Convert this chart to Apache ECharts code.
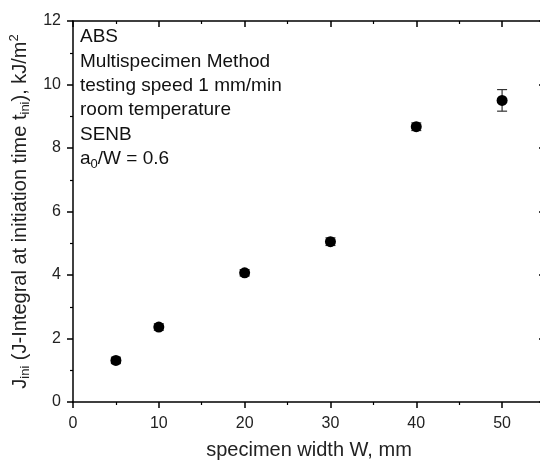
<!DOCTYPE html>
<html>
<head>
<meta charset="utf-8">
<script src="https://cdn.jsdelivr.net/npm/echarts@6/dist/echarts.min.js"></script>
<style>html,body{margin:0;padding:0;background:#fff;}#c{width:540px;height:460px;}</style>
</head>
<body>
<div id="c"></div>
<script>
var widths = [5, 10, 20, 30, 40, 50];
var jini = [1.31, 2.36, 4.07, 5.05, 8.67, 9.50];
var jerr = [0.10, 0.10, 0.10, 0.12, 0.12, 0.34];
var xTicks = [0, 10, 20, 30, 40, 50];
var yTicks = [0, 2, 4, 6, 8, 10, 12];
var notes = ['ABS', 'Multispecimen Method', 'testing speed 1 mm/min', 'room temperature', 'SENB'];

var font = '"Liberation Sans", Arial, sans-serif';
var chart = echarts.init(document.getElementById('c'));

var points = widths.map(function (w, i) { return [w, jini[i]]; });
var errData = widths.map(function (w, i) { return [w, jini[i] - jerr[i], jini[i] + jerr[i]]; });

function axLine() { return { show: true, onZero: false, lineStyle: { color: '#000', width: 1.5 } }; }
function axTick(inside) { return { show: true, inside: inside, length: 6, lineStyle: { color: '#000', width: 1.5 } }; }
function minTick() { return { show: true, splitNumber: 2, length: 3, lineStyle: { color: '#000', width: 1.2 } }; }

chart.setOption({
  animation: false,
  backgroundColor: '#fff',
  grid: { left: 73, top: 21, width: 472, height: 381, containLabel: false, outerBoundsMode: 'none' },
  xAxis: [{
    type: 'value', min: 0, max: 55, interval: 10,
    position: 'bottom',
    axisLine: axLine(), axisTick: axTick(false), minorTick: minTick(),
    splitLine: { show: false },
    axisLabel: { color: '#222', fontSize: 16, fontFamily: font, margin: 14,
      formatter: function (v) { return xTicks.indexOf(v) >= 0 ? String(v) : ''; } },
    name: 'specimen width W, mm', nameLocation: 'middle', nameGap: 38,
    nameTextStyle: { color: '#222', fontSize: 20, fontFamily: font }
  }, {
    type: 'value', min: 0, max: 55, interval: 10,
    position: 'top',
    axisLine: axLine(), axisTick: axTick(true), minorTick: minTick(),
    splitLine: { show: false },
    axisLabel: { show: false }
  }],
  yAxis: [{
    type: 'value', min: 0, max: 12, interval: 2,
    position: 'left',
    axisLine: axLine(), axisTick: axTick(false), minorTick: minTick(),
    splitLine: { show: false },
    axisLabel: { color: '#222', fontSize: 16, fontFamily: font, margin: 12,
      formatter: function (v) { return yTicks.indexOf(v) >= 0 ? String(v) : ''; } },
    name: '{n|J}{sub|ini}{n| (J-Integral at initiation time t}{sub|ini}{n|), kJ/m}{sup|2}',
    nameLocation: 'middle', nameGap: 31,
    nameTextStyle: {
      color: '#222', fontFamily: font,
      rich: {
        n: { fontSize: 20, fontFamily: font, color: '#222', lineHeight: 24 },
        sub: { fontSize: 13, fontFamily: font, color: '#222', verticalAlign: 'bottom', lineHeight: 24, padding: [9, 0, 0, 0] },
        sup: { fontSize: 13, fontFamily: font, color: '#222', verticalAlign: 'top', lineHeight: 24, padding: [0, 0, 9, 0] }
      }
    }
  }, {
    type: 'value', min: 0, max: 12, interval: 2,
    position: 'right',
    axisLine: axLine(), axisTick: axTick(true), minorTick: minTick(),
    splitLine: { show: false },
    axisLabel: { show: false }
  }],
  graphic: [{
    type: 'text', left: 80, top: 25,
    style: {
      text: notes.map(function (s) { return '{n|' + s + '}'; }).join('\n') + '\n{n|a}{sub|0}{n|/W = 0.6}',
      font: '19px ' + font, fill: '#111', lineHeight: 24.3,
      rich: {
        n: { fontSize: 19, fontFamily: font, fill: '#111', lineHeight: 24.3 },
        sub: { fontSize: 13, fontFamily: font, fill: '#111', lineHeight: 24.3, verticalAlign: 'bottom', padding: [9, 0, 0, 0] }
      }
    }
  }],
  series: [{
    type: 'custom',
    xAxisIndex: 0, yAxisIndex: 0,
    data: errData,
    z: 2,
    renderItem: function (params, api) {
      var x = api.value(0);
      var lo = api.coord([x, api.value(1)]);
      var hi = api.coord([x, api.value(2)]);
      var hw = 5;
      var st = { stroke: '#333', lineWidth: 1.2 };
      return {
        type: 'group',
        children: [
          { type: 'line', shape: { x1: lo[0], y1: lo[1], x2: hi[0], y2: hi[1] }, style: st },
          { type: 'line', shape: { x1: lo[0] - hw, y1: lo[1], x2: lo[0] + hw, y2: lo[1] }, style: st },
          { type: 'line', shape: { x1: hi[0] - hw, y1: hi[1], x2: hi[0] + hw, y2: hi[1] }, style: st }
        ]
      };
    }
  }, {
    type: 'scatter',
    xAxisIndex: 0, yAxisIndex: 0,
    data: points,
    symbol: 'circle', symbolSize: 11,
    itemStyle: { color: '#000', opacity: 1 },
    z: 3
  }]
});
</script>
</body>
</html>
